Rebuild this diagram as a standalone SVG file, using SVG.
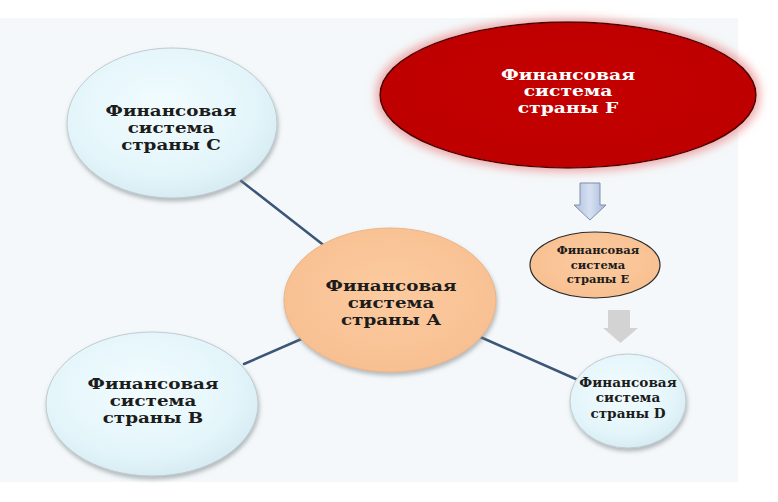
<svg xmlns="http://www.w3.org/2000/svg" width="778" height="502" viewBox="0 0 778 502">
<defs>
<radialGradient id="gBlue" cx="0.45" cy="0.4" r="0.65">
<stop offset="0" stop-color="#f2fcfe"/>
<stop offset="0.7" stop-color="#e3f5fa"/>
<stop offset="1" stop-color="#d3e9f0"/>
</radialGradient>
<radialGradient id="gPeach" cx="0.5" cy="0.45" r="0.6">
<stop offset="0" stop-color="#fccba0"/>
<stop offset="1" stop-color="#f7bf90"/>
</radialGradient>
<radialGradient id="gRed" cx="0.5" cy="0.45" r="0.6">
<stop offset="0" stop-color="#c40404"/>
<stop offset="0.9" stop-color="#be0000"/>
<stop offset="1" stop-color="#a80000"/>
</radialGradient>
<linearGradient id="gArrowBlue" x1="0" y1="0" x2="1" y2="0">
<stop offset="0" stop-color="#aebfdc"/>
<stop offset="0.5" stop-color="#d6e0f2"/>
<stop offset="1" stop-color="#a6b8d8"/>
</linearGradient>
<filter id="shadow" x="-20%" y="-20%" width="140%" height="150%">
<feGaussianBlur in="SourceAlpha" stdDeviation="2" result="blur"/>
<feOffset in="blur" dx="1" dy="3" result="off"/>
<feFlood flood-color="#7a8288" flood-opacity="0.55" result="col"/>
<feComposite in="col" in2="off" operator="in" result="sh"/>
<feMerge><feMergeNode in="sh"/><feMergeNode in="SourceGraphic"/></feMerge>
</filter>
<filter id="glow" x="-20%" y="-30%" width="140%" height="160%">
<feMorphology in="SourceAlpha" operator="dilate" radius="3" result="dil"/>
<feGaussianBlur in="dil" stdDeviation="5" result="blur"/>
<feFlood flood-color="#e98585" flood-opacity="0.7" result="col"/>
<feComposite in="col" in2="blur" operator="in" result="g"/>
<feMerge><feMergeNode in="g"/><feMergeNode in="SourceGraphic"/></feMerge>
</filter>
</defs>
<style>
.lbl{font-family:"DejaVu Serif","Liberation Serif",serif;font-weight:bold;fill:#1c1c1c;text-anchor:middle}
.white{fill:#ffffff}
.blue{fill:url(#gBlue);stroke:#bfcbd0;stroke-width:1}
.conn{stroke:#3b5678;stroke-width:2.5;fill:none;stroke-linecap:round}
</style>
<rect x="0" y="0" width="778" height="502" fill="#ffffff"/>
<rect x="0" y="18" width="738" height="464" fill="#f4f8fa"/>
<g id="connectors">
<line class="conn" x1="240" y1="180" x2="326" y2="247"/>
<line class="conn" x1="244" y1="364" x2="306" y2="337"/>
<line class="conn" x1="478" y1="336" x2="578" y2="380"/>
</g>
<g id="arrows">
<path d="M580,183 H600 V205 H606 L590,220 L574,205 H580 Z" fill="url(#gArrowBlue)" stroke="#7f8fa8" stroke-width="1"/>
<path d="M608,310 H630 V328 H638 L620.5,343 L603,328 H608 Z" fill="#d3d3d3"/>
</g>
<g id="nodeC">
<ellipse class="blue" cx="172" cy="123" rx="105" ry="75" filter="url(#shadow)"/>
<text class="lbl" font-size="15" transform="translate(171,0) scale(1.22,1)"><tspan x="0" y="116">Финансовая</tspan><tspan x="0" y="133">система</tspan><tspan x="0" y="150">страны С</tspan></text>
</g>
<g id="nodeB">
<ellipse class="blue" cx="152" cy="404" rx="106" ry="72" filter="url(#shadow)"/>
<text class="lbl" font-size="15" transform="translate(153,0) scale(1.22,1)"><tspan x="0" y="389">Финансовая</tspan><tspan x="0" y="406">система</tspan><tspan x="0" y="423">страны В</tspan></text>
</g>
<g id="nodeA">
<ellipse cx="390" cy="300" rx="106" ry="72" fill="url(#gPeach)" stroke="#ecb487" stroke-width="1" filter="url(#shadow)"/>
<text class="lbl" font-size="15" transform="translate(391,0) scale(1.22,1)"><tspan x="0" y="291">Финансовая</tspan><tspan x="0" y="308">система</tspan><tspan x="0" y="325">страны А</tspan></text>
</g>
<g id="nodeF">
<ellipse cx="568" cy="95" rx="188" ry="73" fill="url(#gRed)" stroke="#4a0000" stroke-width="1.5" filter="url(#glow)"/>
<text class="lbl white" font-size="15" transform="translate(568,0) scale(1.25,1)"><tspan x="0" y="80">Финансовая</tspan><tspan x="0" y="96.5">система</tspan><tspan x="0" y="113">страны F</tspan></text>
</g>
<g id="nodeE">
<ellipse cx="595" cy="265" rx="65" ry="33" fill="url(#gPeach)" stroke="#2a2a2a" stroke-width="1.2"/>
<text class="lbl" font-size="11.5"><tspan x="598" y="254">Финансовая</tspan><tspan x="598" y="268.5">система</tspan><tspan x="598" y="283">страны Е</tspan></text>
</g>
<g id="nodeD">
<ellipse class="blue" cx="628" cy="401" rx="58" ry="47" filter="url(#shadow)"/>
<text class="lbl" font-size="12.5" transform="translate(628,0) scale(1.09,1)"><tspan x="0" y="387">Финансовая</tspan><tspan x="0" y="402.5">система</tspan><tspan x="0" y="418">страны D</tspan></text>
</g>
</svg>
